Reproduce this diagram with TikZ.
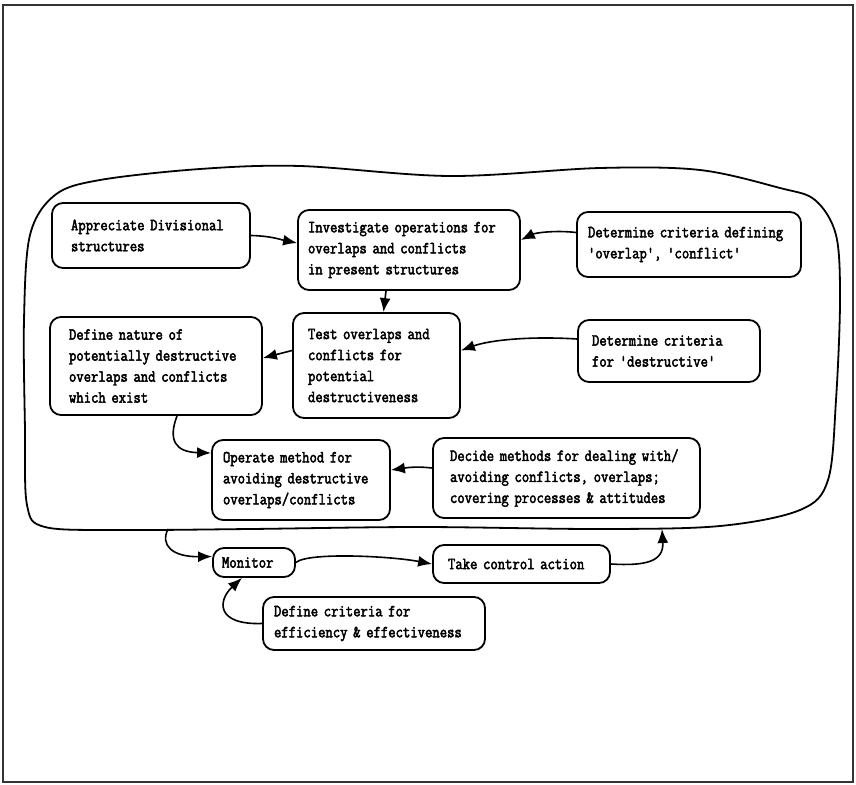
\documentclass[tikz,border=0pt]{standalone}
\usepackage{fontspec}
\newfontfamily\tw[FakeStretch=0.84, FakeBold=2.6]{Latin Modern Mono}
\usetikzlibrary{arrows.meta,calc}

\begin{document}
\begin{tikzpicture}[x=1pt,y=-1pt,
  blob/.style={draw, line width=1.8pt, rounded corners=11pt, align=left,
    font=\tw\fontsize{17pt}{21pt}\selectfont, inner ysep=0pt},
  arr/.style={line width=1.6pt, -{Latex[length=14pt,width=11pt]}},
  loopline/.style={line width=1.8pt},
  frame/.style={line width=2.5pt, black!80}
]
\useasboundingbox (0,0) rectangle (856,784);
\draw[frame] (3,5) rectangle (853,782);

% outer planning loop
\draw[loopline] plot[smooth cycle, tension=0.55] coordinates {
  (24,320) (25,430) (27,505) (45,527) (120,530) (250,529) (420,527)
  (600,529) (720,526) (800,510) (828,480) (836,400) (840,300) (836,235)
  (815,200) (780,188) (700,170) (600,168) (450,176) (300,166) (200,169)
  (100,180) (55,195) (30,235)};
\coordinate (loopL) at (168,529);
\coordinate (loopR) at (662,529);

% activity boxes
\node[blob, minimum width=198pt, minimum height=65pt, inner xsep=19pt, text width=160pt]
  (App) at (151,235.5) {Appreciate Divisional\\structures};
\node[blob, minimum width=222pt, minimum height=80pt, inner xsep=10pt, text width=202pt]
  (Inv) at (409,250) {Investigate operations for\\overlaps and conflicts\\in present structures};
\node[blob, minimum width=224pt, minimum height=65pt, inner xsep=11pt, text width=202pt]
  (DetO) at (689,244.5) {Determine criteria defining\\'overlap', 'conflict'};
\node[blob, minimum width=167pt, minimum height=105pt, inner xsep=15pt, text width=137pt]
  (Test) at (376.5,365.5) {Test overlaps and\\conflicts for\\potential\\destructiveness};
\node[blob, minimum width=182pt, minimum height=62pt, inner xsep=14pt, text width=154pt]
  (DetD) at (669,351) {Determine criteria\\for 'destructive'};
\node[blob, minimum width=212pt, minimum height=98pt, inner xsep=19pt, text width=174pt]
  (Def) at (156,366) {Define nature of\\potentially destructive\\overlaps and conflicts\\which exist};
\node[blob, minimum width=178pt, minimum height=80pt, inner xsep=11pt, text width=156pt]
  (Op) at (301,480) {Operate method for\\avoiding destructive\\overlaps/conflicts};
\node[blob, minimum width=267pt, minimum height=80pt, inner xsep=17pt, text width=233pt]
  (Dec) at (566.5,478) {Decide methods for dealing with/\\avoiding conflicts, overlaps;\\covering processes \& attitudes};
\node[blob, minimum width=82pt, minimum height=29pt, inner xsep=9pt, text width=64pt]
  (Mon) at (254,562.5) {Monitor};
\node[blob, minimum width=177pt, minimum height=38pt, inner xsep=15pt, text width=147pt]
  (Take) at (521.5,564) {Take control action};
\node[blob, minimum width=222pt, minimum height=53pt, inner xsep=11pt, text width=200pt]
  (Crit) at (374,623.5) {Define criteria for\\efficiency \& effectiveness};

% connectors
\draw[arr] (App.east) .. controls (272,236) and (282,240) .. ($(Inv.west)+(0,-7)$);
\draw[arr] ($(DetO.west)+(0,-12)$) .. controls (555,230) and (535,233) .. ($(Inv.east)+(0,-10)$);
\draw[arr] ($(Inv.south)+(-23,0)$) -- ($(Test.north)+(7,0)$);
\draw[arr] ($(DetD.west)+(0,-12)$) .. controls (530,336) and (490,340) .. ($(Test.east)+(0,-15)$);
\draw[arr] ($(Test.west)+(0,-15)$) -- ($(Def.east)+(0,-8)$);
\draw[arr] ($(Def.south)+(21,0)$) .. controls (168,440) and (175,452) .. ($(Op.west)+(0,-27)$);
\draw[arr] ($(Dec.west)+(0,-10)$) .. controls (415,466) and (405,468) .. ($(Op.east)+(0,-10)$);
\draw[arr] (loopL) .. controls (160,545) and (172,557) .. ($(Mon.west)+(0,-6)$);
\draw[arr] (Mon.east) .. controls (308,552) and (390,556) .. (Take.west);
\draw[arr] (Take.east) .. controls (645,566) and (664,562) .. (loopR);
\draw[arr] (Crit.west) .. controls (215,625) and (218,600) .. ($(Mon.south)+(-12,0)$);
\end{tikzpicture}
\end{document}
